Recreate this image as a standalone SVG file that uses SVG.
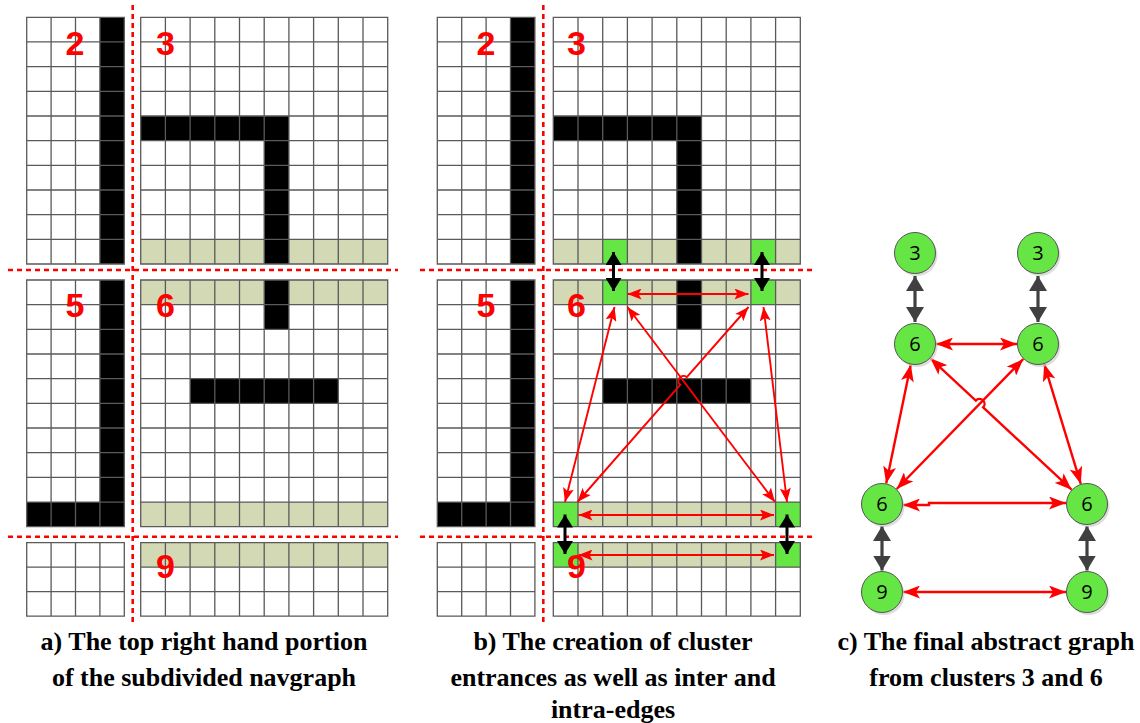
<svg xmlns="http://www.w3.org/2000/svg" xmlns:xlink="http://www.w3.org/1999/xlink" width="1140" height="723" viewBox="0 0 1140 723">
<style>
.grid{fill:none;stroke:#5a5a5a;stroke-width:1.3;vector-effect:non-scaling-stroke}
.bg{fill:#fff}
.blk{fill:#000}
.kh{fill:#d3d9b5}
.gr{fill:#66e645}
.dash{stroke:#ff0000;stroke-width:2.6;stroke-dasharray:5 4;fill:none}
.lbl{font-family:"Liberation Sans",Arial,sans-serif;font-weight:bold;font-size:34px;fill:#ff0000;text-anchor:middle}
.cap{font-family:"Liberation Serif","Times New Roman",serif;font-weight:bold;font-size:26px;fill:#000;text-anchor:middle}
.red{stroke:#ff0000;stroke-width:1.9;fill:none;marker-start:url(#rh);marker-end:url(#rh)}
.redc{stroke:#ff0000;stroke-width:2.4;fill:none;marker-start:url(#rhc);marker-end:url(#rhc)}
.blka{stroke:#000;stroke-width:3;fill:none;marker-start:url(#bh);marker-end:url(#bh)}
.gra{stroke:#404040;stroke-width:3.2;fill:none;marker-start:url(#gh);marker-end:url(#gh)}
.node{fill:#66e645;stroke:#555;stroke-width:1}
.shadow{fill:#cfcfcf;opacity:0.7}
.nt{font-family:"Open Sans","Liberation Sans",sans-serif;font-size:20px;fill:#000;text-anchor:middle}
</style>
<defs>
<marker id="rh" viewBox="0 0 14 11" refX="14" refY="5.5" markerWidth="14" markerHeight="11" markerUnits="userSpaceOnUse" orient="auto-start-reverse"><path d="M0,0 L14,5.5 L0,11 L3,5.5 Z" fill="#ff0000"/></marker>
<marker id="rhc" viewBox="0 0 17 13" refX="17" refY="6.5" markerWidth="17" markerHeight="13" markerUnits="userSpaceOnUse" orient="auto-start-reverse"><path d="M0,0 L17,6.5 L0,13 L4,6.5 Z" fill="#ff0000"/></marker>
<marker id="bh" viewBox="0 0 13 16" refX="13" refY="8" markerWidth="13" markerHeight="16" markerUnits="userSpaceOnUse" orient="auto-start-reverse"><path d="M0,0 L13,8 L0,16 Z" fill="#000"/></marker>
<marker id="gh" viewBox="0 0 15 18" refX="15" refY="9" markerWidth="15" markerHeight="18" markerUnits="userSpaceOnUse" orient="auto-start-reverse"><path d="M0,0 L15,9 L0,18 Z" fill="#404040"/></marker>
<path id="g10x10" class="grid" d="M0,0H10V10H0Z M1,0V10M2,0V10M3,0V10M4,0V10M5,0V10M6,0V10M7,0V10M8,0V10M9,0V10 M0,1H10M0,2H10M0,3H10M0,4H10M0,5H10M0,6H10M0,7H10M0,8H10M0,9H10"/>
<path id="g4x10" class="grid" d="M0,0H4V10H0Z M1,0V10M2,0V10M3,0V10 M0,1H4M0,2H4M0,3H4M0,4H4M0,5H4M0,6H4M0,7H4M0,8H4M0,9H4"/>
<path id="g4x3" class="grid" d="M0,0H4V3H0Z M1,0V3M2,0V3M3,0V3 M0,1H4M0,2H4"/>
<path id="g10x3" class="grid" d="M0,0H10V3H0Z M1,0V3M2,0V3M3,0V3M4,0V3M5,0V3M6,0V3M7,0V3M8,0V3M9,0V3 M0,1H10M0,2H10"/>
</defs>
<rect width="1140" height="723" fill="#fff"/>

<!-- Panel a -->
<g id="panel-a">
<g id="a-block2" transform="translate(26.7,17.3) scale(24.4,24.67)">
<rect class="bg" width="4" height="10"/><rect class="blk" x="3" y="0" width="1" height="10"/><use xlink:href="#g4x10"/></g>
<g id="a-block3" transform="translate(140.7,17.3) scale(24.7,24.67)">
<rect class="bg" width="10" height="10"/><rect class="kh" x="0" y="9" width="10" height="1"/><rect class="blk" x="0" y="4" width="6" height="1"/><rect class="blk" x="5" y="4" width="1" height="6"/><use xlink:href="#g10x10"/></g>
<g id="a-block5" transform="translate(26.7,280) scale(24.4,24.67)">
<rect class="bg" width="4" height="10"/><rect class="blk" x="3" y="0" width="1" height="10"/><rect class="blk" x="0" y="9" width="4" height="1"/><use xlink:href="#g4x10"/></g>
<g id="a-block6" transform="translate(140.7,280) scale(24.7,24.67)">
<rect class="bg" width="10" height="10"/><rect class="kh" x="0" y="0" width="10" height="1"/><rect class="kh" x="0" y="9" width="10" height="1"/><rect class="blk" x="5" y="0" width="1" height="2"/><rect class="blk" x="2" y="4" width="6" height="1"/><use xlink:href="#g10x10"/></g>
<g id="a-block8" transform="translate(26.7,542.7) scale(24.4,24.5)">
<rect class="bg" width="4" height="3"/><use xlink:href="#g4x3"/></g>
<g id="a-block9" transform="translate(140.7,542.7) scale(24.7,24.5)">
<rect class="bg" width="10" height="3"/><rect class="kh" x="0" y="0" width="10" height="1"/><use xlink:href="#g10x3"/></g>
<path class="dash" d="M132.7,5V623 M8,270H398 M8,536.7H398"/>
<text class="lbl" x="75" y="55">2</text>
<text class="lbl" x="165.5" y="55">3</text>
<text class="lbl" x="75" y="317">5</text>
<text class="lbl" x="165.5" y="317">6</text>
<text class="lbl" x="165.5" y="578">9</text>
</g>

<!-- Panel b -->
<g id="panel-b">
<g id="b-block2" transform="translate(437.3,17.3) scale(24.4,24.67)">
<rect class="bg" width="4" height="10"/><rect class="blk" x="3" y="0" width="1" height="10"/><use xlink:href="#g4x10"/></g>
<g id="b-block3" transform="translate(553.3,17.3) scale(24.7,24.67)">
<rect class="bg" width="10" height="10"/><rect class="kh" x="0" y="9" width="10" height="1"/><rect class="blk" x="0" y="4" width="6" height="1"/><rect class="blk" x="5" y="4" width="1" height="6"/><rect class="gr" x="2" y="9" width="1" height="1"/><rect class="gr" x="8" y="9" width="1" height="1"/><use xlink:href="#g10x10"/></g>
<g id="b-block5" transform="translate(437.3,280) scale(24.4,24.67)">
<rect class="bg" width="4" height="10"/><rect class="blk" x="3" y="0" width="1" height="10"/><rect class="blk" x="0" y="9" width="4" height="1"/><use xlink:href="#g4x10"/></g>
<g id="b-block6" transform="translate(553.3,280) scale(24.7,24.67)">
<rect class="bg" width="10" height="10"/><rect class="kh" x="0" y="0" width="10" height="1"/><rect class="kh" x="0" y="9" width="10" height="1"/><rect class="blk" x="5" y="0" width="1" height="2"/><rect class="blk" x="2" y="4" width="6" height="1"/><rect class="gr" x="2" y="0" width="1" height="1"/><rect class="gr" x="8" y="0" width="1" height="1"/><rect class="gr" x="0" y="9" width="1" height="1"/><rect class="gr" x="9" y="9" width="1" height="1"/><use xlink:href="#g10x10"/></g>
<g id="b-block8" transform="translate(437.3,542.7) scale(24.4,24.5)">
<rect class="bg" width="4" height="3"/><use xlink:href="#g4x3"/></g>
<g id="b-block9" transform="translate(553.3,542.7) scale(24.7,24.5)">
<rect class="bg" width="10" height="3"/><rect class="kh" x="0" y="0" width="10" height="1"/><rect class="gr" x="0" y="0" width="1" height="1"/><rect class="gr" x="9" y="0" width="1" height="1"/><use xlink:href="#g10x3"/></g>
<path class="dash" d="M543.3,5V623 M420,270H812 M420,536.7H812"/>
<text class="lbl" x="486" y="55">2</text>
<text class="lbl" x="576.5" y="55">3</text>
<text class="lbl" x="486" y="317">5</text>
<text class="lbl" x="576.5" y="317">6</text>
<text class="lbl" x="576.5" y="578">9</text>
</g>

<g id="connectors-b">
<path class="blka" d="M613.5,252V291"/>
<path class="blka" d="M762,252V291"/>
<path class="blka" d="M565,514.5V554"/>
<path class="blka" d="M787,514.5V554"/>
<path class="red" d="M627.5,294H748.5"/>
<path class="red" d="M614.5,307L565,502"/>
<path class="red" d="M627.5,307L775,502"/>
<path class="red" d="M748.5,307L686.8,377.2A5,5 0 0 0 680.2,384.8L577.5,502"/>
<path class="red" d="M763.5,307L787,502"/>
<path class="red" d="M578.5,515H774"/>
<path class="red" d="M578.5,555H774"/>
</g>

<!-- Panel c -->
<g id="connectors-c">
<path class="gra" d="M915,276V322"/>
<path class="gra" d="M1038,276V322"/>
<path class="gra" d="M882,526V570.5"/>
<path class="gra" d="M1087,526V570.5"/>
<path class="redc" d="M936,344H1017"/>
<path class="redc" d="M910.8,364.6L886.2,483.4"/>
<path class="redc" d="M930.4,358.3L975.8,400.6A5,5 0 0 1 983.2,407.4L1071.6,489.7"/>
<path class="redc" d="M1023.3,359L896.7,489"/>
<path class="redc" d="M1044.2,364.1L1080.8,483.9"/>
<path class="redc" d="M903,505H929V503H1066"/>
<path class="redc" d="M903,592H1066"/>
</g>
<g id="node-3L"><circle class="shadow" cx="917" cy="255.5" r="20.5"/><circle class="node" cx="915" cy="253" r="20.5"/><text class="nt" x="915" y="260">3</text></g>
<g id="node-3R"><circle class="shadow" cx="1040" cy="255.5" r="20.5"/><circle class="node" cx="1038" cy="253" r="20.5"/><text class="nt" x="1038" y="260">3</text></g>
<g id="node-6TL"><circle class="shadow" cx="917" cy="346.5" r="20.5"/><circle class="node" cx="915" cy="344" r="20.5"/><text class="nt" x="915" y="351">6</text></g>
<g id="node-6TR"><circle class="shadow" cx="1040" cy="346.5" r="20.5"/><circle class="node" cx="1038" cy="344" r="20.5"/><text class="nt" x="1038" y="351">6</text></g>
<g id="node-6BL"><circle class="shadow" cx="884" cy="506.5" r="20.5"/><circle class="node" cx="882" cy="504" r="20.5"/><text class="nt" x="882" y="511">6</text></g>
<g id="node-6BR"><circle class="shadow" cx="1089" cy="506.5" r="20.5"/><circle class="node" cx="1087" cy="504" r="20.5"/><text class="nt" x="1087" y="511">6</text></g>
<g id="node-9L"><circle class="shadow" cx="884" cy="594.5" r="20.5"/><circle class="node" cx="882" cy="592" r="20.5"/><text class="nt" x="882" y="599">9</text></g>
<g id="node-9R"><circle class="shadow" cx="1089" cy="594.5" r="20.5"/><circle class="node" cx="1087" cy="592" r="20.5"/><text class="nt" x="1087" y="599">9</text></g>

<g id="captions">
<text class="cap" x="204" y="650">a) The top right hand portion</text>
<text class="cap" x="204" y="686">of the subdivided navgraph</text>
<text class="cap" x="613" y="650">b) The creation of cluster</text>
<text class="cap" x="613" y="686">entrances as well as inter and</text>
<text class="cap" x="613" y="718">intra-edges</text>
<text class="cap" x="986" y="650">c) The final abstract graph</text>
<text class="cap" x="986" y="686">from clusters 3 and 6</text>
</g>
</svg>
